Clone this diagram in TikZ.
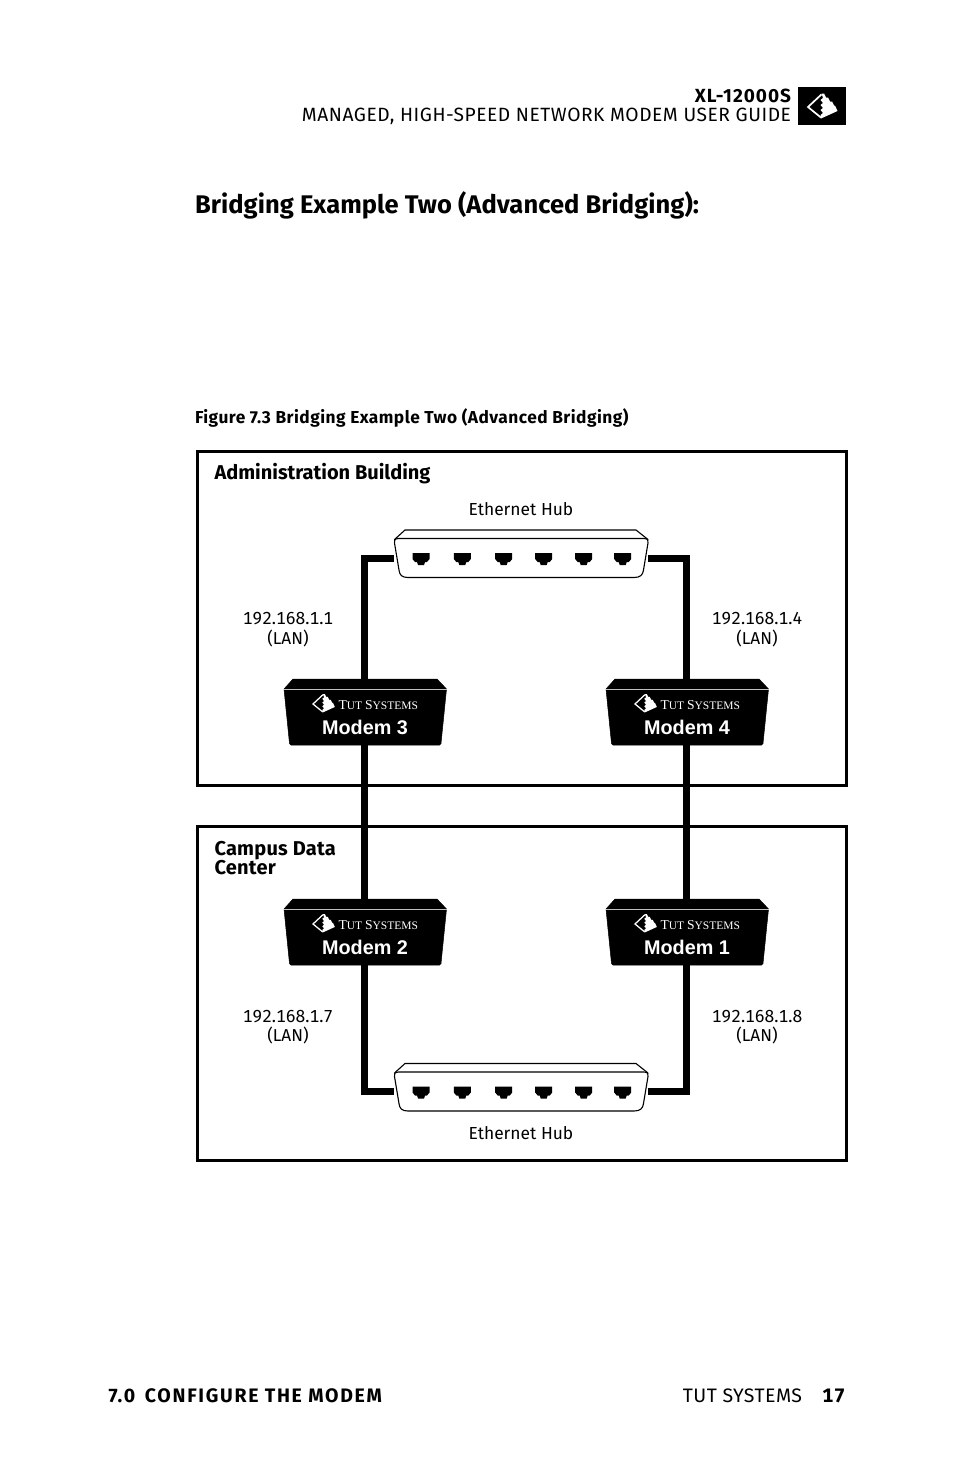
\documentclass[tikz,border=0pt]{standalone}
\usepackage{fontspec}
\setmainfont{Fira Sans}
\newfontfamily\serifface{Liberation Serif}
\newfontfamily\labelface{Liberation Sans}
\newcommand{\fs}[1]{\fontsize{#1}{#1}\selectfont}
\newcommand{\track}[1]{\addfontfeature{LetterSpace=#1}}
\newcommand{\tabnum}{\addfontfeature{Numbers=Monospaced}}
\tikzset{
  x=1pt,y=-1pt,
  txt/.style={inner sep=0pt,outer sep=0pt,align=left},
  frame/.style={draw=black,line width=3pt,inner sep=0pt,outer sep=0pt},
  wire/.style={line width=7pt,draw=black,line cap=butt,line join=miter},
  modembox/.style={inner sep=0pt,outer sep=0pt,minimum width=163pt,minimum height=66pt},
  hubbox/.style={inner sep=0pt,outer sep=0pt,minimum width=254pt,minimum height=40pt},
  hubline/.style={draw=black,line width=1.1pt,fill=white,line join=round},
  mlabel/.style={txt,text=white,font=\labelface\bfseries\fs{19.8}},
  blabel/.style={txt,font=\bfseries\fs{20}},
  nlabel/.style={txt,font=\fs{17.4},align=center},
  iplabel/.style={txt,font=\fs{17.4}\tabnum,align=center},
  lanlabel/.style={txt,font=\fs{17.2},align=center},
}
\newcommand{\logomark}[4]{% x y scale colour
  \begin{scope}[shift={(#1,#2)},scale=#3]
    \draw[#4,line width=1.7pt*#3,line join=miter] (13.5,-12.6) -- (0,0) -- (13,10.6);
    \fill[#4] (13.5,-13.5) -- (16,-13.5) -- (18,-9.5) -- (20,-9.5) -- (22,-5.5) -- (24,-5.5) -- (26,-1.5) -- (27,-1.5) -- (29.5,4)
       -- (13,11.5) -- (12.5,8) -- (15,6) -- (12.5,3) -- (15,1) -- (12.5,-2) -- (15,-4) -- (12.5,-7) -- (15,-9) -- cycle;
  \end{scope}
}
\newcommand{\modem}[4]{% name cx top label
  \path[fill=black,line join=round,draw=black,line width=0.5pt]
    ({#2-72},{#3}) -- ({#2+72},{#3}) -- ({#2+81.5},{#3+10}) -- ({#2+76},{#3+64.5})
    arc[start angle=0,end angle=90,radius=1.5] -- ({#2-74},{#3+66}) arc[start angle=90,end angle=180,radius=1.5]
    -- ({#2-81},{#3+10}) -- cycle;
  \draw[white!75!black,line width=0.5pt] ({#2-81},{#3+10}) -- ({#2+81.5},{#3+10});
  \logomark{#2-52}{#3+25}{0.74}{white}
  \node[txt,text=white,anchor=base west] (#1brand) at ({#2-26.5},{#3+30}) {\serifface\fs{13.6}T\fs{11.5}UT \fs{13.6}S\fs{11.5}YSTEMS};
  \node[mlabel,anchor=base] (#1label) at ({#2},{#3+55}) {#4};
}
\newcommand{\hubports}[2]{% top y, height
  \foreach \px in {421,462.3,503.7,543.7,583.7,622.7}{
    \fill[black] ({\px-8.5},{#1}) -- ({\px+8.5},{#1}) -- ({\px+8.5},{#1+6}) -- ({\px+6},{#1+9}) -- ({\px+4},{#1+9})
      -- ({\px+3},{#1+#2}) -- ({\px-3},{#1+#2}) -- ({\px-4},{#1+9}) -- ({\px-6},{#1+9}) -- ({\px-8.5},{#1+6}) -- cycle;
  }
}
\newcommand{\hubshape}[1]{% t = back-top y
  \draw[hubline] (405,#1) -- (636,#1) -- (648,{#1+9.5}) -- (394.5,{#1+9.5}) -- cycle;
  \draw[hubline] (398.5,{#1+8.5}) -- (644,{#1+8.5}) .. controls (648,{#1+8.5}) and (648.5,{#1+11}) .. (648,{#1+13})
    -- (643.5,{#1+40}) .. controls (643,{#1+45}) and (640,{#1+47.5}) .. (634,{#1+47.5})
    -- (408,{#1+47.5}) .. controls (402,{#1+47.5}) and (399.5,{#1+45}) .. (399,{#1+40})
    -- (394.5,{#1+13}) .. controls (394,{#1+11}) and (394.5,{#1+8.5}) .. (398.5,{#1+8.5}) -- cycle;
}
\begin{document}
\begin{tikzpicture}
\useasboundingbox (0,0) rectangle (954,1475);
\fill[white] (0,0) rectangle (954,1475);

% header
\node[txt,anchor=base east,font=\bfseries\fs{19}\track{5.2}] (model) at (791,102) {XL-12000S};
\node[txt,anchor=base east,font=\fs{19.2}\track{2.8}] (guide) at (791,121) {MANAGED, HIGH-SPEED NETWORK MODEM USER GUIDE};
\node[fill=black,minimum width=48pt,minimum height=38pt,inner sep=0pt,outer sep=0pt] (headlogo) at (822,106) {};
\logomark{808}{107}{1}{white}

\node[txt,anchor=base west,font=\bfseries\fs{25.5}\track{0.25}] (title) at (195,213) {Bridging Example Two (Advanced Bridging):};
\node[txt,anchor=base west,font=\bfseries\fs{17.3}\track{2.75}] (figcap) at (195,423) {Figure 7.3 Bridging Example Two (Advanced Bridging)};

% building frames
\node[frame,anchor=north west,minimum width=649.5pt,minimum height=334pt] (admin) at (197,451) {};
\node[frame,anchor=north west,minimum width=649.5pt,minimum height=334.5pt] (campus) at (197,826) {};
\node[blabel,anchor=base west] (adminlabel) at (214.5,479) {Administration Building};
\node[blabel,anchor=base west,align=left] (campuslabel) at (214.5,874) {\track{1.2}Campus Data\\[-1pt]\track{1.2}Center};

% modem and hub boxes that the connectors attach to
\node[modembox] (m3) at (364.5,712) {};
\node[modembox] (m4) at (686.5,712) {};
\node[modembox] (m2) at (364.5,932) {};
\node[modembox] (m1) at (686.5,932) {};
\node[hubbox] (hubA) at (521,558.5) {};
\node[hubbox] (hubB) at (521,1091) {};

% connectors
\draw[wire] (m3.north) |- (hubA.west);
\draw[wire] (m4.north) |- (hubA.east);
\draw[wire] (m3.south) -- (m2.north);
\draw[wire] (m4.south) -- (m1.north);
\draw[wire] (m2.south) |- (hubB.west);
\draw[wire] (m1.south) |- (hubB.east);

% hubs
\hubshape{530}
\hubports{553}{12}
\hubshape{1063.5}
\hubports{1086.5}{12}

% modems
\modem{mThree}{365}{679}{Modem 3}
\modem{mFour}{687}{679}{Modem 4}
\modem{mTwo}{365}{899}{Modem 2}
\modem{mOne}{687}{899}{Modem 1}

% labels
\node[nlabel,anchor=base] (hubAlabel) at (521,515.5) {Ethernet Hub};
\node[nlabel,anchor=base] (hubBlabel) at (521,1139.5) {Ethernet Hub};
\node[iplabel,anchor=base] (ip1) at (288,624) {192.168.1.1};
\node[lanlabel,anchor=base] (lan1) at (288,644) {(LAN)};
\node[iplabel,anchor=base] (ip4) at (757,624) {192.168.1.4};
\node[lanlabel,anchor=base] (lan4) at (757,644) {(LAN)};
\node[iplabel,anchor=base] (ip7) at (288,1022) {192.168.1.7};
\node[lanlabel,anchor=base] (lan7) at (288,1041) {(LAN)};
\node[iplabel,anchor=base] (ip8) at (757,1022) {192.168.1.8};
\node[lanlabel,anchor=base] (lan8) at (757,1041) {(LAN)};

% footer
\node[txt,anchor=base west,font=\bfseries\fs{19.5}\track{8.7}] (footl) at (108.5,1402) {7.0\hspace{0.5em}CONFIGURE THE MODEM};
\node[txt,anchor=base east,font=\fs{19.5}\track{2.3}] (footm) at (802,1402) {TUT SYSTEMS};
\node[txt,anchor=base east,font=\bfseries\fs{19.5}\tabnum\track{4}] (footr) at (845,1402) {17};
\end{tikzpicture}
\end{document}
